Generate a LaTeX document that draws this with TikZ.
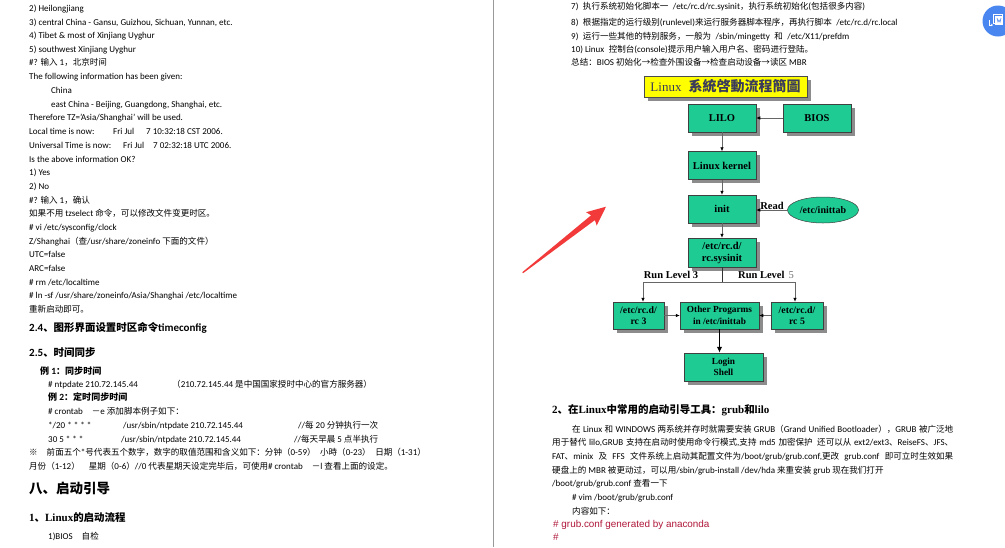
\documentclass[tikz,border=0pt]{standalone}
\usepackage{fontspec}
\usepackage{tikz}
\usetikzlibrary{arrows.meta, positioning, shapes.geometric, shadows, calc}
\setmainfont{Carlito}
\newfontfamily\cjkfont{Noto Sans CJK SC}[Scale=0.95]
\newfontfamily\tcfont{Noto Sans CJK TC}
\newfontfamily\serifbf{Liberation Serif}
\newfontfamily\arialfont{Liberation Sans}

% switch to the CJK family for Chinese characters
\XeTeXinterchartokenstate=1
\newXeTeXintercharclass\cjkclass
\newcount\cjkcode
\def\setcjkrange#1#2{\cjkcode=#1\relax
  \loop\XeTeXcharclass\cjkcode=\cjkclass
  \ifnum\cjkcode<#2\advance\cjkcode by 1\repeat}
\setcjkrange{"3000}{"303F}
\setcjkrange{"4E00}{"9FFF}
\setcjkrange{"FF00}{"FFEF}
\XeTeXcharclass"2192=\cjkclass
\XeTeXcharclass"203B=\cjkclass
\XeTeXinterchartoks 0 \cjkclass = {\begingroup\cjkfont}
\XeTeXinterchartoks 4095 \cjkclass = {\begingroup\cjkfont}
\XeTeXinterchartoks \cjkclass 0 = {\endgroup}
\XeTeXinterchartoks \cjkclass 4095 = {\endgroup}

\definecolor{boxgreen}{HTML}{1DCB93}
\definecolor{shadowgray}{HTML}{8C8C8C}
\definecolor{titleyellow}{HTML}{FFFF00}
\definecolor{titleink}{HTML}{3A3A5A}
\definecolor{arrowred}{HTML}{F23A3A}
\definecolor{iconblue}{HTML}{4A86F0}
\definecolor{confred}{HTML}{B0183A}

\begin{document}
\begin{tikzpicture}[
    x=1pt, y=-1pt,
    pagetext/.style={anchor=west, inner sep=0pt, text height=7pt, text depth=2pt, font=\fontsize{9}{10}\selectfont},
    headtext/.style={anchor=west, inner sep=0pt, text height=0.8em, text depth=0.2em, font=\fontsize{11}{12}\selectfont\bfseries},
    bigheadtext/.style={headtext, font=\fontsize{14.2}{15}\selectfont\bfseries},
    conftext/.style={anchor=west, inner sep=0pt, text height=7pt, text depth=2pt, text=confred, font=\arialfont\fontsize{9.9}{11}\selectfont},
    flowbox/.style={draw=black!75, line width=0.5pt, fill=boxgreen, minimum width=68pt, minimum height=28pt, inner sep=1pt, align=center,
        font=\serifbf\bfseries\fontsize{10.5}{12}\selectfont, drop shadow={shadow xshift=3.5pt, shadow yshift=-3.5pt, fill=shadowgray, opacity=1}},
    smallbox/.style={flowbox, minimum height=27pt, font=\serifbf\bfseries\fontsize{9.8}{11.5}\selectfont},
    flowoval/.style={ellipse, draw=black!75, line width=0.5pt, fill=boxgreen, minimum width=71pt, minimum height=26pt, inner sep=0pt,
        font=\serifbf\bfseries\fontsize{10}{12}\selectfont},
    titlebox/.style={draw=black!70, line width=0.6pt, fill=titleyellow, minimum width=163pt, minimum height=21pt, inner sep=0pt, text=titleink,
        drop shadow={shadow xshift=3.5pt, shadow yshift=-3.5pt, fill=shadowgray, opacity=1}},
    flowlabel/.style={inner sep=0pt, font=\serifbf\bfseries\fontsize{10.5}{12}\selectfont},
    flowline/.style={draw=black!60, line width=0.6pt, -{Latex[length=4pt, width=3.5pt, color=black]}},
    forkline/.style={draw=black!80, line width=0.6pt},
    thickline/.style={draw=black, line width=1.3pt, -{Latex[length=6pt, width=5.5pt]}}
]
\fill[white] (0,0) rectangle (1005,547);
\useasboundingbox (0,0) rectangle (1005,547);

% page gap
\draw[black!40, line width=0.8pt] (493,0) -- (493,547);

% left page
\node[pagetext] (l1) at (29,9) {2) Heilongjiang};
\node[pagetext] (l2) at (29,23) {3) central China - Gansu, Guizhou, Sichuan, Yunnan, etc.};
\node[pagetext] (l3) at (29,36) {4) Tibet \& most of Xinjiang Uyghur};
\node[pagetext] (l4) at (29,50) {5) southwest Xinjiang Uyghur};
\node[pagetext] (l5) at (29,63) {\#? 输入 1，北京时间};
\node[pagetext] (l6) at (29,77) {The following information has been given:};
\node[pagetext] (l7) at (51,91) {China};
\node[pagetext] (l8) at (51,105) {east China - Beijing, Guangdong, Shanghai, etc.};
\node[pagetext] (l9) at (29,118) {Therefore TZ=\symbol{39}Asia/Shanghai\symbol{39} will be used.};
\node[pagetext] (l10) at (29,132) {\makebox[84pt][l]{Local time is now:}\makebox[33pt][l]{Fri Jul}7 10:32:18 CST 2006.};
\node[pagetext] (l11) at (29,146) {\makebox[94pt][l]{Universal Time is now:}\makebox[30pt][l]{Fri Jul}7 02:32:18 UTC 2006.};
\node[pagetext] (l12) at (29,160) {Is the above information OK?};
\node[pagetext] (l13) at (29,173) {1) Yes};
\node[pagetext] (l14) at (29,187) {2) No};
\node[pagetext] (l15) at (29,201) {\#? 输入 1，确认};
\node[pagetext] (l16) at (29,214) {如果不用 tzselect 命令，可以修改文件变更时区。};
\node[pagetext] (l17) at (29,228) {\# vi /etc/sysconfig/clock};
\node[pagetext] (l18) at (29,242) {Z/Shanghai（查/usr/share/zoneinfo 下面的文件）};
\node[pagetext] (l19) at (29,255) {UTC=false};
\node[pagetext] (l20) at (29,269) {ARC=false};
\node[pagetext] (l21) at (29,283) {\# rm /etc/localtime};
\node[pagetext] (l22) at (29,296) {\# ln -sf /usr/share/zoneinfo/Asia/Shanghai /etc/localtime};
\node[pagetext] (l23) at (29,310) {重新启动即可。};
\node[headtext] (l24) at (29,328) {2.4、图形界面设置时区命令timeconfig};
\node[headtext] (l25) at (29,353) {2.5、时间同步};
\node[pagetext, font=\fontsize{9.5}{10}\selectfont\bfseries] (l26) at (40,372) {例 1：同步时间};
\node[pagetext] (l27) at (48,385) {\makebox[124pt][l]{\# ntpdate 210.72.145.44}（210.72.145.44 是中国国家授时中心的官方服务器）};
\node[pagetext, font=\fontsize{9.5}{10}\selectfont\bfseries] (l28) at (48,398) {例 2：定时同步时间};
\node[pagetext] (l29) at (48,412) {\# crontab\quad －e 添加脚本例子如下：};
\node[pagetext] (l30) at (48,426) {\makebox[75pt][l]{*/20 * * * *}\makebox[175pt][l]{/usr/sbin/ntpdate 210.72.145.44}//每 20 分钟执行一次};
\node[pagetext] (l31) at (48,440) {\makebox[73pt][l]{30 5 * * *}\makebox[173pt][l]{/usr/sbin/ntpdate 210.72.145.44}//每天早晨 5 点半执行};
\node[pagetext] (l32) at (29,453) {※\quad 前面五个*号代表五个数字，数字的取值范围和含义如下：分钟（0-59）\enspace 小時（0-23）\enspace 日期（1-31）};
\node[pagetext] (l33) at (29,467) {月份（1-12）\quad 星期（0-6）//0 代表星期天设定完毕后，可使用\# crontab\quad －l 查看上面的设定。};
\node[bigheadtext] (l34) at (29,490) {八、启动引导};
\node[headtext, font=\serifbf\fontsize{11}{12}\selectfont\bfseries] (l35) at (29,518) {1、Linux的启动流程};
\node[pagetext] (l36) at (48,537) {1)BIOS\quad 自检};

% right page
\node[pagetext] (r1) at (571,7) {7)\enspace 执行系统初始化脚本一\enspace /etc/rc.d/rc.sysinit，执行系统初始化(包括很多内容)};
\node[pagetext] (r2) at (571,23) {8)\enspace 根据指定的运行级别(runlevel)来运行服务器脚本程序，再执行脚本\enspace /etc/rc.d/rc.local};
\node[pagetext] (r3) at (571,37) {9)\enspace 运行一些其他的特别服务，一般为\enspace /sbin/mingetty\enspace 和\enspace /etc/X11/prefdm};
\node[pagetext] (r4) at (571,50) {10) Linux\enspace 控制台(console)提示用户输入用户名、密码进行登陆。};
\node[pagetext] (r5) at (571,63) {总结：BIOS 初始化→检查外围设备→检查启动设备→读区 MBR};
\node[headtext, font=\serifbf\fontsize{11}{12}\selectfont\bfseries] (r6) at (552,410) {2、在Linux中常用的启动引导工具：grub和lilo};
\node[pagetext] (r7) at (572,430) {\makebox[381pt][s]{在 Linux 和 WINDOWS 两系统并存时就需要安装 GRUB（Grand Unified Bootloader），GRUB 被广泛地}};
\node[pagetext] (r8) at (552,443) {\makebox[401pt][s]{用于替代 lilo,GRUB 支持在启动时使用命令行模式,支持 md5 加密保护\enspace 还可以从 ext2/ext3、ReiseFS、JFS、}};
\node[pagetext] (r9) at (552,457) {\makebox[401pt][s]{FAT、minix 及 FFS 文件系统上启动其配置文件为/boot/grub/grub.conf,更改 grub.conf 即可立时生效如果}};
\node[pagetext] (r10) at (552,471) {硬盘上的 MBR 被更动过，可以用/sbin/grub-install /dev/hda 来重安装 grub 现在我们打开};
\node[pagetext] (r11) at (552,484) {/boot/grub/grub.conf 查看一下};
\node[pagetext] (r12) at (572,498) {\# vim /boot/grub/grub.conf};
\node[pagetext] (r13) at (572,512) {内容如下：};
\node[conftext] (r14) at (553,525) {\# grub.conf generated by anaconda};
\node[conftext] (r15) at (553,538) {\#};

% boot flow chart
\node[titlebox] (title) at (725.5,86.5) {\XeTeXinterchartokenstate=0 {\serifbf\fontsize{13}{15}\selectfont Linux}\hspace{7pt}{\tcfont\bfseries\fontsize{14}{16}\selectfont 系統啓動流程簡圖}};
\node[flowbox] (lilo) at (722,118) {LILO};
\node[flowbox] (bios) at (817,118) {BIOS};
\node[flowbox] (kernel) at (722,165.5) {Linux kernel};
\node[flowbox] (init) at (722,209) {init};
\node[flowoval] (inittab) at (823,210) {/etc/inittab};
\node[flowbox, minimum height=29pt] (sysinit) at (722,252.5) {/etc/rc.d/\\rc.sysinit};
\node[smallbox, minimum width=51pt] (rcthree) at (638.5,315.5) {/etc/rc.d/\\rc 3};
\node[smallbox, minimum width=79pt, font=\serifbf\bfseries\fontsize{9.3}{11.5}\selectfont] (other) at (719.5,315.5) {Other Progarms\\in /etc/inittab};
\node[smallbox, minimum width=52pt] (rcfive) at (797,315.5) {/etc/rc.d/\\rc 5};
\node[smallbox, minimum width=79pt, minimum height=28pt, font=\serifbf\bfseries\fontsize{9.3}{11.5}\selectfont] (login) at (723.5,367) {Login\\Shell};

\node[flowlabel] (readlbl) at (772,205.5) {Read};
\node[flowlabel] (levelthree) at (671,275) {Run Level 3};
\node[flowlabel] (levelfive) at (766,275) {Run Level\hspace{4pt}{\mdseries\color{black!55}5}};

\draw[flowline] (bios) -- (lilo);
\draw[flowline] (lilo) -- (kernel);
\draw[flowline] (kernel) -- (init);
\draw[flowline] (inittab.west) -- (init.east |- inittab.west);
\draw[flowline] (init) -- (sysinit);
\coordinate (fork) at ([yshift=-15pt]sysinit.south);
\draw[forkline] (sysinit) -- (fork);
\draw[flowline] (fork) -| ([xshift=4.5pt]rcthree.north);
\draw[flowline] (fork) -| ([xshift=-2pt]rcfive.north);
\draw[flowline] (rcthree) -- (other);
\draw[flowline] (rcfive) -- (other);
\draw[thickline] (other) -- (other.south |- login.north);

% red pointer
\fill[arrowred] (522.3,272.2) -- (523.1,273.2) -- (594.9,220.1) -- (596.7,225.6) -- (606,206.7)
    -- (586.1,212.2) -- (591.1,215.3) -- cycle;

% floating button
\fill[iconblue] (998,21) circle (15.5);
\draw[white, line width=0.9pt] (993,14) rectangle (1002,23);
\fill[white] (995,16) rectangle (1003,25);
\draw[iconblue, line width=0.6pt] (997,18) -- (998,22) -- (999,20) -- (1000,22) -- (1001,18);
\draw[white, line width=0.8pt, -{Stealth[length=2pt, width=2.5pt]}] (989,20) -- (989,25) -- (993,25);
\end{tikzpicture}
\end{document}
